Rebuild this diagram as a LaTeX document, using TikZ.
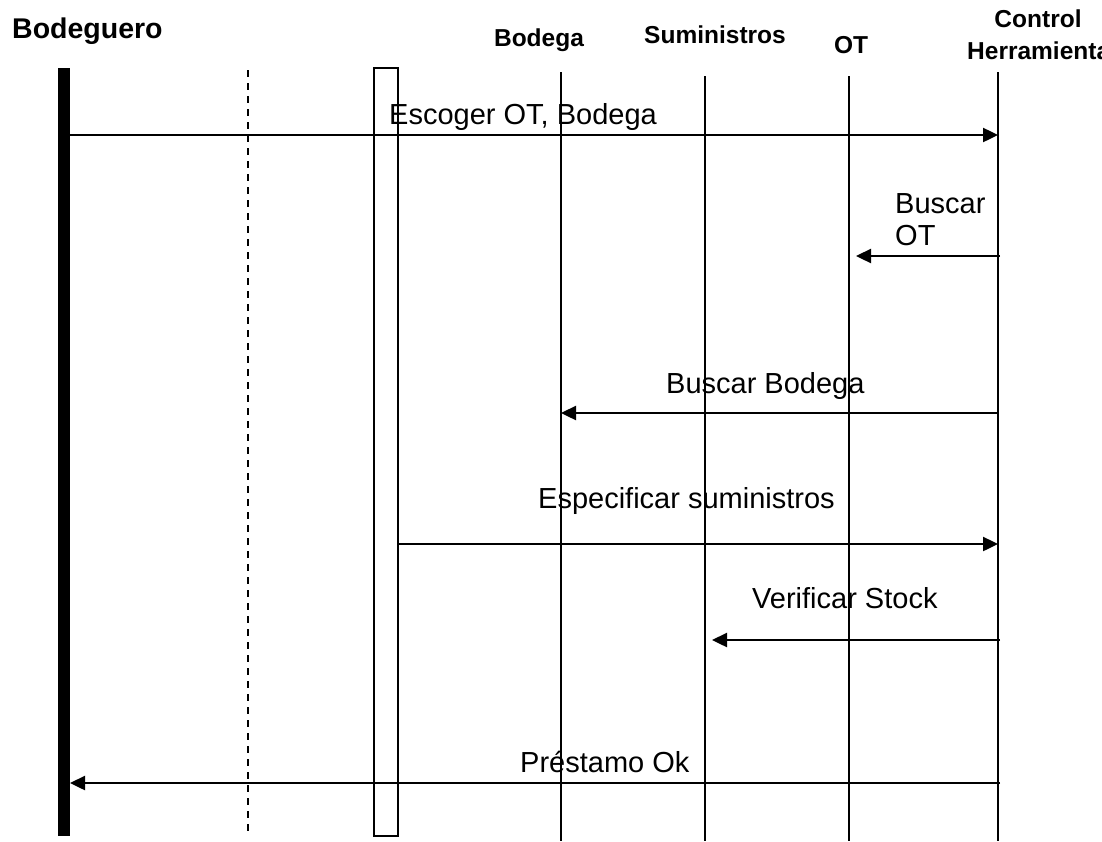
\documentclass[tikz,border=0pt]{standalone}
\usepackage{fontspec}
\setmainfont{Liberation Sans}
\usetikzlibrary{arrows.meta}
\begin{document}
\begin{tikzpicture}[x=1pt,y=-1pt,
  hdr/.style={font=\bfseries\fontsize{24.5}{28}\selectfont,inner sep=0pt,anchor=base},
  msg/.style={font=\fontsize{29}{32}\selectfont,inner sep=0pt,anchor=base west},
  life/.style={line width=1.6pt},
  call/.style={line width=2.4pt,-{Triangle[length=15pt,width=14pt]}}]
\useasboundingbox (0,0) rectangle (1102,841);
% headers
\node[hdr,anchor=base west,font=\bfseries\fontsize{28.5}{32}\selectfont] (hBq) at (12,38) {Bodeguero};
\node[hdr] (hBo) at (539,46) {Bodega};
\node[hdr] (hSu) at (715,43) {Suministros};
\node[hdr] (hOT) at (851,53) {OT};
\node[hdr] (hC1) at (1038,27) {Control};
\node[hdr,anchor=base west] (hC2) at (967,59) {Herramienta};
% lifelines
\fill (58,68) rectangle (70,836);
\draw[life,dash pattern=on 7pt off 6pt] (248,70) -- (248,836);
\draw[life] (374,68) rectangle (398,836);
\draw[life] (561,72) -- (561,841);
\draw[life] (705,76) -- (705,841);
\draw[life] (849,76) -- (849,841);
\draw[life] (998,72) -- (998,841);
% coordinates on lifelines
\coordinate (bq1) at (70,135);   \coordinate (ct1) at (998,135);
\coordinate (ct2) at (1000,256); \coordinate (ot2) at (856,256);
\coordinate (ct3) at (998,413);  \coordinate (bo3) at (561,413);
\coordinate (bx4) at (398,544);  \coordinate (ct4) at (998,544);
\coordinate (ct5) at (1000,640); \coordinate (su5) at (712,640);
\coordinate (ct6) at (1000,783); \coordinate (bq6) at (70,783);
% messages
\draw[call] (bq1) -- (ct1);
\draw[call] (ct2) -- (ot2);
\draw[call] (ct3) -- (bo3);
\draw[call] (bx4) -- (ct4);
\draw[call] (ct5) -- (su5);
\draw[call] (ct6) -- (bq6);
% labels
\node[msg] (m1) at (389,124) {Escoger OT, Bodega};
\node[msg] (m2a) at (895,213) {Buscar};
\node[msg] (m2b) at (895,245) {OT};
\node[msg] (m3) at (666,393) {Buscar Bodega};
\node[msg] (m4) at (538,508) {Especificar suministros};
\node[msg] (m5) at (752,608) {Verificar Stock};
\node[msg] (m6) at (520,772) {Préstamo Ok};
\end{tikzpicture}
\end{document}
